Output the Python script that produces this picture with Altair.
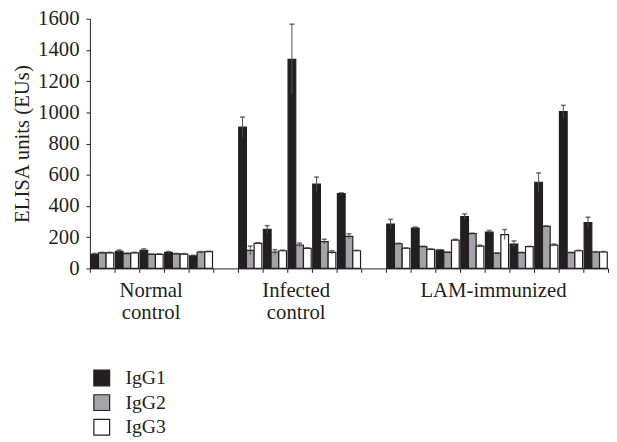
import altair as alt
import pandas as pd

# ---- data ----
slots = ["N1", "N2", "N3", "N4", "N5", "gap1",
         "I1", "I2", "I3", "I4", "I5", "gap2",
         "L1", "L2", "L3", "L4", "L5", "L6", "L7", "L8", "L9"]
animals = [s for s in slots if not s.startswith("gap")]
isotypes = ["IgG1", "IgG2", "IgG3"]

igg1 = [90, 110, 115, 103, 80,
        905, 250, 1340, 540, 480,
        284, 259, 118, 332, 233, 156, 552, 1005, 294]
igg1_err = [6, 8, 10, 5, 4,
            65, 24, 225, 45, 4,
            30, 6, 2, 17, 10, 20, 60, 40, 34]
igg2 = [100, 95, 90, 93, 105,
        115, 105, 150, 172, 205,
        158, 139, 103, 223, 97, 101, 269, 101, 105]
igg2_err = [3, 4, 3, 3, 3,
            28, 15, 12, 15, 17,
            3, 3, 2, 3, 3, 2, 3, 2, 2]
igg3 = [100, 100, 90, 92, 107,
        160, 113, 128, 103, 113,
        129, 122, 181, 143, 217, 139, 149, 113, 105]
igg3_err = [3, 3, 3, 3, 3,
            5, 4, 4, 10, 3,
            3, 3, 6, 6, 32, 3, 7, 3, 3]

y_ticks = [0, 200, 400, 600, 800, 1000, 1200, 1400, 1600]

group_label_slots = ["N3", "I3", "L5"]
group_labels = [["Normal", "control"], ["Infected", "control"], ["LAM-immunized"]]

fills = ["#231f20", "#a2a4a7", "#ffffff"]

# ---- long table ----
rows = []
for vals, errs, iso in [(igg1, igg1_err, "IgG1"), (igg2, igg2_err, "IgG2"), (igg3, igg3_err, "IgG3")]:
    for a, v, e in zip(animals, vals, errs):
        rows.append({"animal": a, "isotype": iso, "value": v, "lo": v - e, "hi": v + e})
df = pd.DataFrame(rows)

def js_label(lines):
    if len(lines) == 1:
        return "'" + lines[0] + "'"
    return "[" + ",".join("'" + l + "'" for l in lines) + "]"

label_expr = ""
for s, lines in zip(group_label_slots, group_labels):
    label_expr += f"datum.value == '{s}' ? {js_label(lines)} : "
label_expr += "''"

FONT = "Liberation Serif"
INK = "#231f20"
YTITLE = "ELISA units (EUs)"
YFS = 21

x_enc = alt.X(
    "animal:N",
    scale=alt.Scale(domain=slots, paddingInner=0, paddingOuter=0),
    axis=alt.Axis(
        title=None, tickBand="extent", labelExpr=label_expr, labelAngle=0,
        tickSize=4, labelPadding=7, labelFontSize=21, labelLineHeight=23,
        labelOffset={"condition": {"test": "datum.value == 'N3'", "value": -1},
                     "value": -4},
        labelOverlap=False, labelColor=INK,
        domainColor=INK, tickColor=INK, domainWidth=1, tickWidth=1,
    ),
)
xoff = alt.XOffset("isotype:N", scale=alt.Scale(domain=isotypes, paddingInner=0, paddingOuter=0.1))
y_scale = alt.Scale(domain=[0, 1600], nice=False)
y_axis = alt.Axis(
    values=y_ticks, format="d", grid=False, labelOverlap=False,
    tickSize=4, labelPadding=7, labelFontSize=YFS, labelColor=INK, labelFont=FONT,
    titleFontSize=YFS, titleFontWeight="normal", titlePadding=5, titleColor=INK,
    titleFont=FONT, domainColor=INK, tickColor=INK,
)

bars = alt.Chart(df).mark_bar(stroke=INK, strokeWidth=1.2).encode(
    x=x_enc,
    xOffset=xoff,
    y=alt.Y("value:Q", scale=y_scale, title=YTITLE, axis=y_axis),
    color=alt.Color(
        "isotype:N",
        scale=alt.Scale(domain=isotypes, range=fills),
        legend=alt.Legend(
            title=None, orient="none", legendX=2, legendY=354, direction="vertical",
            symbolType="square", symbolSize=256, symbolStrokeColor=INK,
            symbolStrokeWidth=1.2, labelFontSize=20, labelOffset=14,
            rowPadding=3, padding=0, labelColor=INK,
        ),
    ),
)

err_rule = alt.Chart(df).mark_rule(color="#4d4d4d", strokeWidth=1).encode(
    x=x_enc, xOffset=xoff,
    y=alt.Y("lo:Q", scale=y_scale, title=YTITLE, axis=y_axis),
    y2="hi:Q",
)
cap_hi = alt.Chart(df).mark_tick(color="#3a3a3a", thickness=1.6, size=5).encode(
    x=x_enc, xOffset=xoff,
    y=alt.Y("hi:Q", scale=y_scale, title=YTITLE, axis=y_axis),
)

chart = alt.layer(bars, err_rule, cap_hi).properties(
    width=525, height=253,
    autosize=alt.AutoSizeParams(type="none"),
    padding={"left": 83, "top": 8, "right": 1, "bottom": 170},
).configure_axis(
    labelFont=FONT, titleFont=FONT,
).configure_axisY(
    labelFontSize=YFS, titleFontSize=YFS, titleFontWeight="normal",
).configure_legend(
    labelFont=FONT,
).configure_view(stroke=None)

chart.save("out.html", embed_options={"renderer": "svg", "actions": False})
